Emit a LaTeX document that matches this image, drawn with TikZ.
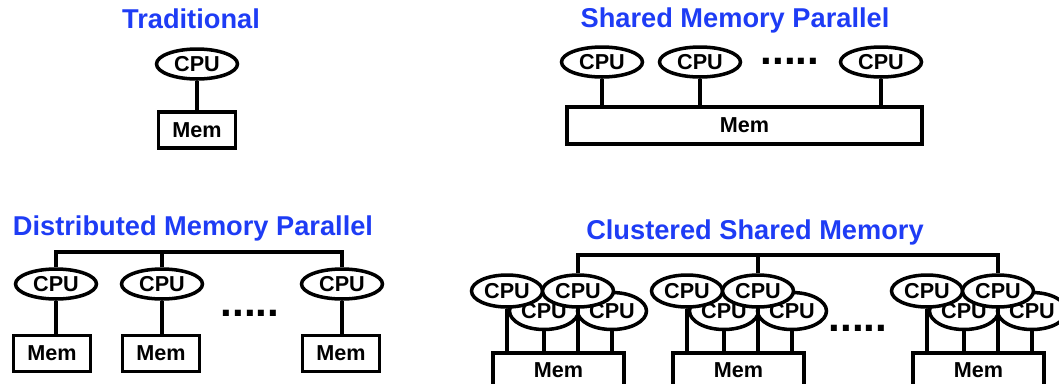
\documentclass[tikz,border=0pt]{standalone}
\usepackage{fontspec}
\setmainfont{Liberation Sans}
\usepackage{tikz}
\usetikzlibrary{shapes.geometric, positioning}
\definecolor{myblue}{RGB}{30,60,245}
\tikzset{
  heading/.style={font=\fontsize{15.5}{18}\selectfont\bfseries, color=myblue, inner sep=0pt},
  cpu/.style={ellipse, draw=black, fill=white, line width=2pt,
    minimum width=1.62cm, minimum height=0.6cm, inner sep=0pt,
    font=\fontsize{12.3}{14}\selectfont\bfseries},
  cfcpu/.style={cpu, minimum width=1.42cm, minimum height=0.64cm},
  cbcpu/.style={cpu, minimum width=1.38cm, minimum height=0.74cm},
  mem/.style={rectangle, draw=black, fill=white, line width=1.8pt,
    minimum width=1.54cm, minimum height=0.72cm, inner sep=0pt,
    font=\fontsize{12.3}{14}\selectfont\bfseries},
  cmem/.style={mem, minimum width=2.62cm, minimum height=0.68cm},
  dots/.style={font=\fontsize{24}{26}\selectfont\bfseries, inner sep=0pt},
  wire/.style={line width=2.8pt, color=black}
}

\begin{document}
\begin{tikzpicture}[x=0.02cm, y=-0.02cm]
  \clip (0,0) rectangle (1059,383);

  % Traditional
  \node[heading] (tradhd) at (191,19) {Traditional};
  \node[cpu] (tcpu) at (197,64) {CPU};
  \node[mem] (tmem) at (197,130) {Mem};
  \draw[wire] (tcpu) -- (tmem);

  % Shared memory parallel
  \node[heading] (shdhd) at (735,20) {Shared Memory Parallel};
  \node[cpu] (scpu1) at (602,62) {CPU};
  \node[cpu] (scpu2) at (700,62) {CPU};
  \node[cpu] (scpu3) at (881,62) {CPU};
  \node[dots] (sdots) at (790,61) {.....};
  \node[mem, minimum width=7.1cm, minimum height=0.74cm] (smem) at (744.5,125.5) {Mem};
  \draw[wire] (scpu1) -- (scpu1 |- smem.north);
  \draw[wire] (scpu2) -- (scpu2 |- smem.north);
  \draw[wire] (scpu3) -- (scpu3 |- smem.north);

  % Distributed memory parallel
  \node[heading] (dsthd) at (193,228) {Distributed Memory Parallel};
  \node[cpu] (dcpu1) at (56,284) {CPU};
  \node[cpu] (dcpu2) at (162,284) {CPU};
  \node[cpu] (dcpu3) at (342,284) {CPU};
  \node[mem] (dmem1) at (52,353.5) {Mem};
  \node[mem] (dmem2) at (161,353.5) {Mem};
  \node[mem] (dmem3) at (341,353.5) {Mem};
  \node[dots] (ddots) at (250,313) {.....};
  \coordinate (dbus) at (0,252);
  \draw[wire] (dcpu1) -- (dcpu1 |- dbus) -- (dcpu3 |- dbus) -- (dcpu3);
  \draw[wire] (dcpu2) -- (dcpu2 |- dbus);
  \draw[wire] (dcpu1) -- (dcpu1 |- dmem1.north);
  \draw[wire] (dcpu2) -- (dcpu2 |- dmem2.north);
  \draw[wire] (dcpu3) -- (dcpu3 |- dmem3.north);

  % Clustered shared memory
  \node[heading] (clshd) at (755,232) {Clustered Shared Memory};

  \node[cbcpu] (c1bl) at (544,311) {CPU};
  \node[cbcpu] (c1br) at (612,311) {CPU};
  \node[cfcpu] (c1fl) at (507,291) {CPU};
  \node[cfcpu] (c1fr) at (578,291) {CPU};
  \node[cmem] (c1mem) at (558.5,370) {Mem};
  \draw[wire] (c1fl) -- (c1fl |- c1mem.north) (c1bl) -- (c1bl |- c1mem.north)
    (c1fr) -- (c1fr |- c1mem.north) (c1br) -- (c1br |- c1mem.north);

  \node[cbcpu] (c2bl) at (724,311) {CPU};
  \node[cbcpu] (c2br) at (792,311) {CPU};
  \node[cfcpu] (c2fl) at (687,291) {CPU};
  \node[cfcpu] (c2fr) at (758,291) {CPU};
  \node[cmem] (c2mem) at (738.5,370) {Mem};
  \draw[wire] (c2fl) -- (c2fl |- c2mem.north) (c2bl) -- (c2bl |- c2mem.north)
    (c2fr) -- (c2fr |- c2mem.north) (c2br) -- (c2br |- c2mem.north);

  \node[cbcpu] (c3bl) at (964,311) {CPU};
  \node[cbcpu] (c3br) at (1032,311) {CPU};
  \node[cfcpu] (c3fl) at (927,291) {CPU};
  \node[cfcpu] (c3fr) at (998,291) {CPU};
  \node[cmem] (c3mem) at (978.5,370) {Mem};
  \draw[wire] (c3fl) -- (c3fl |- c3mem.north) (c3bl) -- (c3bl |- c3mem.north)
    (c3fr) -- (c3fr |- c3mem.north) (c3br) -- (c3br |- c3mem.north);

  \node[dots] (cdots) at (858,328) {.....};
  \coordinate (cbus) at (0,255);
  \draw[wire] (c1fr) -- (c1fr |- cbus) -- (c3fr |- cbus) -- (c3fr);
  \draw[wire] (c2fr) -- (c2fr |- cbus);
\end{tikzpicture}
\end{document}
